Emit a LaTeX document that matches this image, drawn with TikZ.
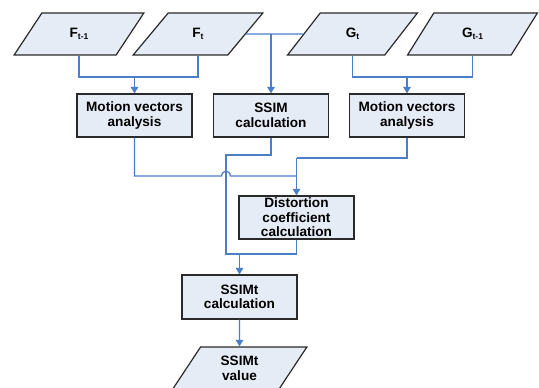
\documentclass[tikz,border=0pt]{standalone}
\usepackage{fontspec}
\setmainfont{Liberation Sans}
\usetikzlibrary{shapes.geometric,arrows.meta}
\definecolor{boxfill}{HTML}{E6ECF6}
\definecolor{flowblue}{HTML}{4A7EC8}
\definecolor{edge}{HTML}{2A2A2A}
\newcommand{\lowsub}[1]{{\fontsize{8.5}{8.5}\selectfont\raisebox{-2.5pt}{#1}}}
\tikzset{
  labelfont/.style={font=\fontsize{13.6}{14.6}\selectfont\bfseries},
  procbox/.style={draw=edge, line width=1.2pt, fill=boxfill, rectangle,
    minimum width=115pt, minimum height=43pt, inner sep=1pt,
    align=center, labelfont},
  iobox/.style={draw=edge, line width=1.2pt, fill=boxfill, trapezium,
    trapezium left angle=61, trapezium right angle=119,
    trapezium stretches=true, minimum width=130pt, minimum height=42pt,
    inner sep=1pt, align=center, labelfont},
  flow/.style={draw=flowblue, line width=1.3pt},
  flowarrow/.style={flow, -{Triangle[width=7.5pt,length=6.5pt]}}
}
\begin{document}
\begin{tikzpicture}[x=1pt, y=-1pt]
  \clip (0,0) rectangle (539,388);
  \fill[white] (0,0) rectangle (539,388);

  % input frames
  \node[iobox] (ft1) at (79,34)  {F\lowsub{t-1}};
  \node[iobox] (ft)  at (198,34) {F\lowsub{t}};
  \node[iobox] (gt)  at (352.5,34) {G\lowsub{t}};
  \node[iobox] (gt1) at (472.5,34) {G\lowsub{t-1}};

  % processing steps
  \node[procbox] (mv1) at (134.5,115.5) {Motion vectors\\analysis};
  \node[procbox] (ssim) at (271,115.5) {SSIM\\calculation};
  \node[procbox] (mv2) at (407,115.5) {Motion vectors\\analysis};
  \node[procbox] (dc) at (296.5,217.5) {Distortion\\coefficient\\calculation};
  \node[procbox, minimum height=44pt] (st) at (239.5,297) {SSIMt\\calculation};
  \node[iobox, minimum width=135pt, minimum height=43pt] (sv) at (239.5,368.5) {SSIMt\\value};

  % junction points
  \coordinate (jf) at (mv1.north |- 0,77);
  \coordinate (jg) at (mv2.north |- 0,77);
  \coordinate (js) at (ssim.north |- ft.east);
  \coordinate (jm2) at (dc.north |- 0,158);
  \coordinate (jm1) at (dc.north |- 0,176);
  \coordinate (hopl) at (221.5,176);
  \coordinate (hopr) at (230.5,176);
  \coordinate (js1) at (226,155);
  \coordinate (js2) at (226,254);
  \coordinate (jt) at (st.north |- 0,254);

  % frame pairs into motion analysis
  \draw[flow] (ft1.south) |- (jf) -| (ft.south);
  \draw[flowarrow] (jf) -- (mv1.north);
  \draw[flow] (gt.south) |- (jg) -| (gt1.south);
  \draw[flowarrow] (jg) -- (mv2.north);

  % current frames into SSIM
  \draw[flow] (ft.east) -- (gt.west);
  \draw[flowarrow] (js) -- (ssim.north);

  % motion results into distortion coefficient
  \draw[flow] (mv2.south) |- (jm2);
  \draw[flowarrow] (jm2) -- (dc.north);
  \draw[flow] (mv1.south) |- (hopl)
    .. controls (222.5,169.5) and (229.5,169.5) .. (hopr) -- (jm1);

  % SSIM and distortion into SSIMt
  \draw[flow] (ssim.south) |- (js1) -- (js2) -- (jt);
  \draw[flow] (dc.south) |- (jt);
  \draw[flowarrow] (jt) -- (st.north);
  \draw[flowarrow] (st.south) -- (sv.north);
\end{tikzpicture}
\end{document}
